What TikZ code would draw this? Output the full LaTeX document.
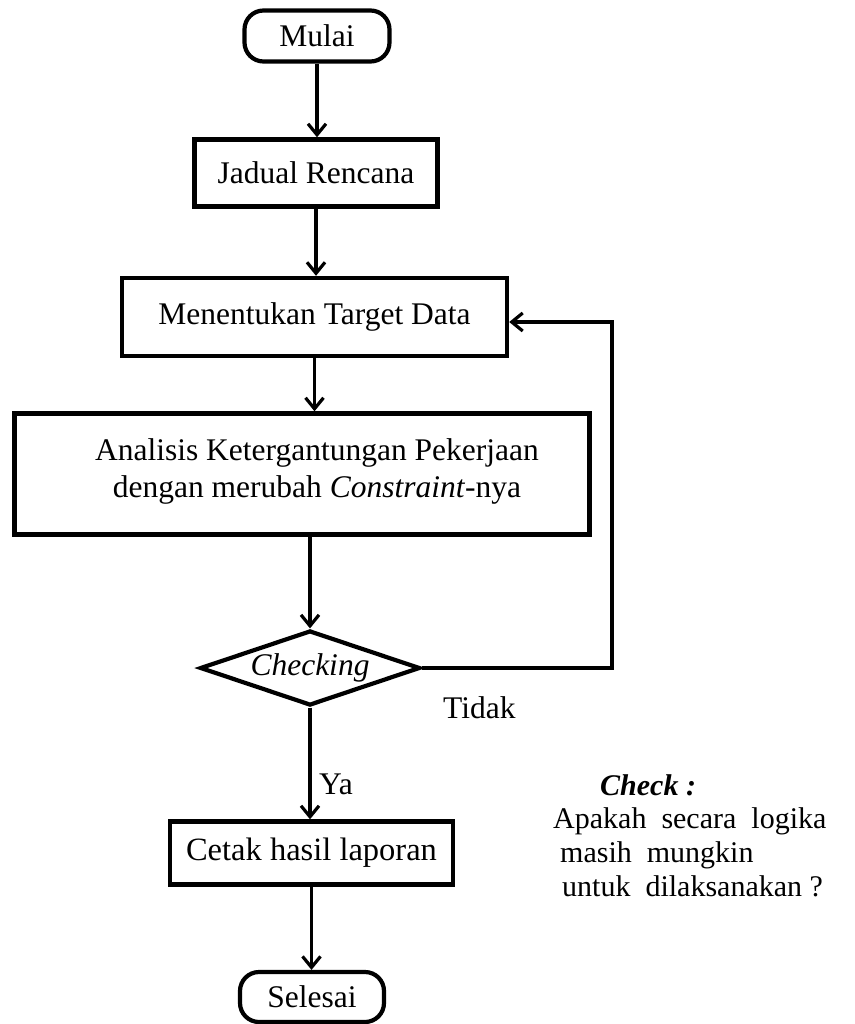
\documentclass[tikz,border=0pt]{standalone}
\usepackage{fontspec}
\setmainfont{Liberation Serif}
\usetikzlibrary{shapes.geometric,arrows.meta,calc}
\tikzset{
  procbox/.style={draw, line width=4.4pt, inner sep=0pt, font=\fontsize{31.5}{37}\selectfont},
  termbox/.style={draw, line width=4.2pt, rounded corners=19pt, inner sep=0pt, minimum width=145pt, minimum height=51pt, font=\fontsize{31.5}{37}\selectfont},
  decbox/.style={draw, diamond, aspect=2.93, line width=4.2pt, inner sep=0pt, minimum width=220pt, minimum height=75pt, font=\fontsize{31.5}{37}\selectfont\itshape},
  arr/.style={line width=3.6pt, -{Straight Barb[length=11pt,width=18pt,line width=3.2pt]}},
  lbl/.style={font=\fontsize{31.5}{37}\selectfont, inner sep=0pt},
  note/.style={font=\fontsize{30}{34}\selectfont, inner sep=0pt, anchor=base west}
}
\begin{document}
\begin{tikzpicture}[x=1pt,y=-1pt]
\useasboundingbox (0,0) rectangle (854,1024);
\fill[white] (0,0) rectangle (854,1024);

\node[termbox] (mulai) at (317,36) {Mulai};
\node[procbox, minimum width=243pt, minimum height=67pt] (jad) at (316,173) {Jadual Rencana};
\node[procbox, minimum width=385pt, minimum height=78pt] (ment) at (314.5,317) {Menentukan Target Data};
\node[procbox, minimum width=575pt, minimum height=121pt] (ana) at (302,474) {};
\node[lbl, align=center] (anat) at (317,471) {Analisis Ketergantungan Pekerjaan\\dengan merubah \textit{Constraint}-nya};
\node[decbox] (diam) at (310,668) {Checking};
\node[procbox, minimum width=283pt, minimum height=63pt, font=\fontsize{32.5}{37}\selectfont] (cetak) at (311.5,853) {Cetak hasil laporan};
\node[termbox, minimum width=144pt, minimum height=50pt] (sel) at (312,997) {Selesai};

\draw[arr] (mulai.south) -- (mulai.south |- jad.north);
\draw[arr] (jad.south) -- (jad.south |- ment.north);
\draw[arr] (ment.south) -- (ment.south |- ana.north);
\draw[arr] (diam.north |- ana.south) -- (diam.north);
\draw[arr] (diam.south) -- (diam.south |- cetak.north);
\draw[arr] (cetak.south) -- (cetak.south |- sel.north);
\draw[arr] (diam.east) -- ++(190,0) |- ([yshift=-5pt]ment.east);

\node[lbl, anchor=west] (tidak) at (443,708) {Tidak};
\node[lbl, anchor=west] (ya) at (319,784) {Ya};

\node[note] (chk) at (600,795) {\textbf{\textit{Check :}}};
\node[note] (l1) at (553,828) {Apakah\ \ secara\ \ logika};
\node[note] (l2) at (560,862) {masih\ \ mungkin};
\node[note] (l3) at (562,896) {untuk\ \ dilaksanakan ?};
\end{tikzpicture}
\end{document}
